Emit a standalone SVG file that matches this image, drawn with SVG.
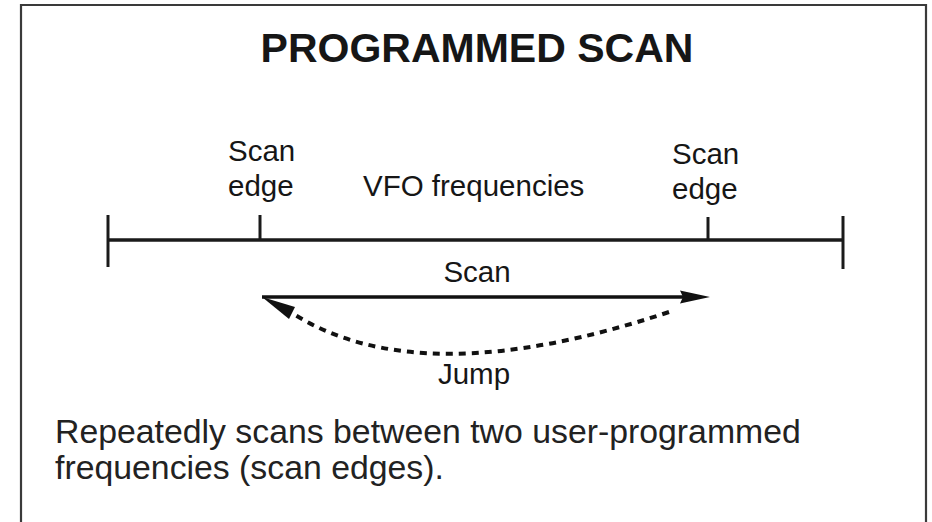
<svg xmlns="http://www.w3.org/2000/svg" width="932" height="522" viewBox="0 0 932 522">
<style>
  text { font-family: "Liberation Sans", Arial, Helvetica, sans-serif; fill: #161616; }
  .title { font-size: 41px; font-weight: bold; text-anchor: middle; }
  .lbl { font-size: 29.5px; }
  .mid { text-anchor: middle; }
  .desc { font-size: 33.8px; fill: #222; }
  .frame { stroke: #3a3a3a; stroke-width: 2.2; fill: none; }
  .axis { stroke: #1a1a1a; stroke-width: 3.5; fill: none; }
  .tick { stroke: #1a1a1a; stroke-width: 3; fill: none; }
  .solid { stroke: #111; stroke-width: 3.5; fill: none; }
  .dash { stroke: #111; stroke-width: 4; fill: none; stroke-dasharray: 7 6; }
  .head { fill: #111; }
</style>
<rect width="932" height="522" fill="#ffffff"/>
<g id="frame">
  <path class="frame" d="M21,522 V5 H926 V522"/>
</g>
<g id="title">
  <text class="title" x="477" y="62">PROGRAMMED SCAN</text>
</g>
<g id="frequency-axis">
  <line class="axis" x1="108" y1="240" x2="843" y2="240"/>
  <line class="tick" x1="108" y1="215" x2="108" y2="267"/>
  <line class="tick" x1="843" y1="216" x2="843" y2="269"/>
</g>
<g id="scan-edge-left">
  <line class="tick" x1="260" y1="215" x2="260" y2="240"/>
  <text class="lbl" x="228" y="161">Scan</text>
  <text class="lbl" x="228" y="196">edge</text>
</g>
<g id="vfo-label">
  <text class="lbl" x="363" y="196">VFO frequencies</text>
</g>
<g id="scan-edge-right">
  <line class="tick" x1="708" y1="217" x2="708" y2="240"/>
  <text class="lbl" x="672" y="164">Scan</text>
  <text class="lbl" x="672" y="199">edge</text>
</g>
<g id="connectors">
  <g id="scan-arrow">
    <line class="solid" x1="262" y1="297" x2="686" y2="297"/>
    <polygon class="head" points="710,297 680,290.5 683,297 680,303.5"/>
    <text class="lbl mid" x="477" y="282">Scan</text>
  </g>
  <g id="jump-arrow">
    <path class="dash" d="M669,312 Q420,395 292,313"/>
    <polygon class="head" points="262,297 295,307 292,313 289,319"/>
    <text class="lbl mid" x="474" y="384">Jump</text>
  </g>
</g>
<g id="description">
  <text class="desc" x="55" y="443">Repeatedly scans between two user-programmed</text>
  <text class="desc" x="55" y="479">frequencies (scan edges).</text>
</g>
</svg>
